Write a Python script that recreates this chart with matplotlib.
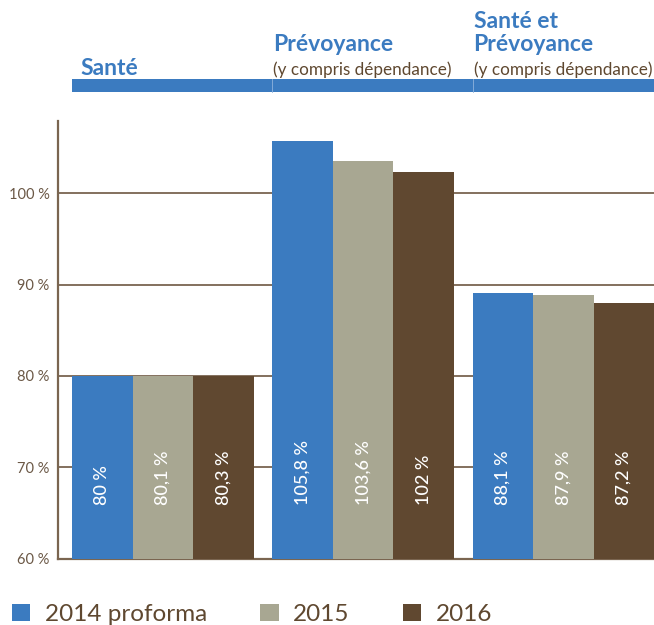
import matplotlib.pyplot as plt
import matplotlib.transforms as mtransforms
import numpy as np

# Data
groups = ["Santé", "Prévoyance", "Santé et\nPrévoyance"]
subtitles = ["", "(y compris dépendance)", "(y compris dépendance)"]
series = ["2014 proforma", "2015", "2016"]
heights = {
    "2014 proforma": [80.0, 105.7, 89.1],
    "2015": [80.0, 103.5, 88.9],
    "2016": [80.0, 102.3, 88.0],
}
value_labels = {
    "2014 proforma": ["80 %", "105,8 %", "88,1 %"],
    "2015": ["80,1 %", "103,6 %", "87,9 %"],
    "2016": ["80,3 %", "102 %", "87,2 %"],
}
yticks = [60, 70, 80, 90, 100]
ytick_labels = ["60 %", "70 %", "80 %", "90 %", "100 %"]

colors = {"2014 proforma": "#3b7bc0", "2015": "#a8a792", "2016": "#604830"}
blue = "#3b7bc0"
brown = "#5f4830"
axis_brown = "#7a6550"

plt.rcParams["font.family"] = ["Lato", "DejaVu Sans"]

fig = plt.figure(figsize=(6.54, 6.25), dpi=100)
ax = fig.add_axes([0.0887, 0.106, 0.9113, 0.7004])

x = np.arange(len(groups))
w = 0.302
for i, s in enumerate(series):
    xs = x + (i - 1) * w
    ax.bar(xs, np.array(heights[s]) - 60, bottom=60, width=w,
           color=colors[s], zorder=3, label=s)
    for xi, lab in zip(xs, value_labels[s]):
        ax.text(xi, 65.9, lab, rotation=90, ha="center", va="bottom",
                color="white", fontsize=13, fontweight="medium", zorder=4)

ax.set_xlim(-0.524, 2 + 1.5 * w)
ax.set_ylim(60, 107.9)
ax.set_yticks(yticks)
ax.set_yticklabels(ytick_labels, color="#6b5846", fontsize=10.5)
ax.tick_params(axis="y", length=0, pad=6)
ax.set_xticks([])
for y in yticks[1:]:
    ax.axhline(y, color=axis_brown, lw=1.3, zorder=1)
for side in ["top", "right"]:
    ax.spines[side].set_visible(False)
for side in ["left", "bottom"]:
    ax.spines[side].set_color(axis_brown)
    ax.spines[side].set_linewidth(1.6)

# Header band
hdr = mtransforms.blended_transform_factory(ax.transData, fig.transFigure)
y0, y1 = 1 - 92 / 625, 1 - 79 / 625
for i in range(len(groups)):
    left = i - 1.5 * w
    right = i + 1 - 1.5 * w if i < len(groups) - 1 else i + 1.5 * w
    ax.add_patch(plt.Rectangle((left, y0), right - left, y1 - y0,
                               transform=hdr, color=blue, clip_on=False,
                               lw=0))
    if i > 0:
        ax.plot([left, left], [y0, y1], transform=hdr, color="#8fb3dc",
                lw=0.6, clip_on=False)

title_pos = [(0.04, 75), (0.005, 51), (0.005, 51)]
for i, (g, sub) in enumerate(zip(groups, subtitles)):
    dx, py = title_pos[i]
    ax.text(i - 1.5 * w + dx, 1 - py / 625, g, transform=hdr, color=blue,
            fontsize=16.5, fontweight="bold", ha="left", va="baseline",
            linespacing=1.1)
    if sub:
        ax.text(i - 1.5 * w + 0.005, 1 - 75 / 625, sub, transform=hdr,
                color=brown, fontsize=12.3, ha="left", va="baseline")

fig.legend(loc="lower left", bbox_to_anchor=(0.018, 0.0), ncol=3,
           frameon=False, fontsize=17.5, handlelength=0.75,
           handleheight=0.75, handletextpad=0.6, columnspacing=2.2,
           borderpad=0, borderaxespad=0, labelcolor=brown)

fig.savefig("out.png", dpi=100)
